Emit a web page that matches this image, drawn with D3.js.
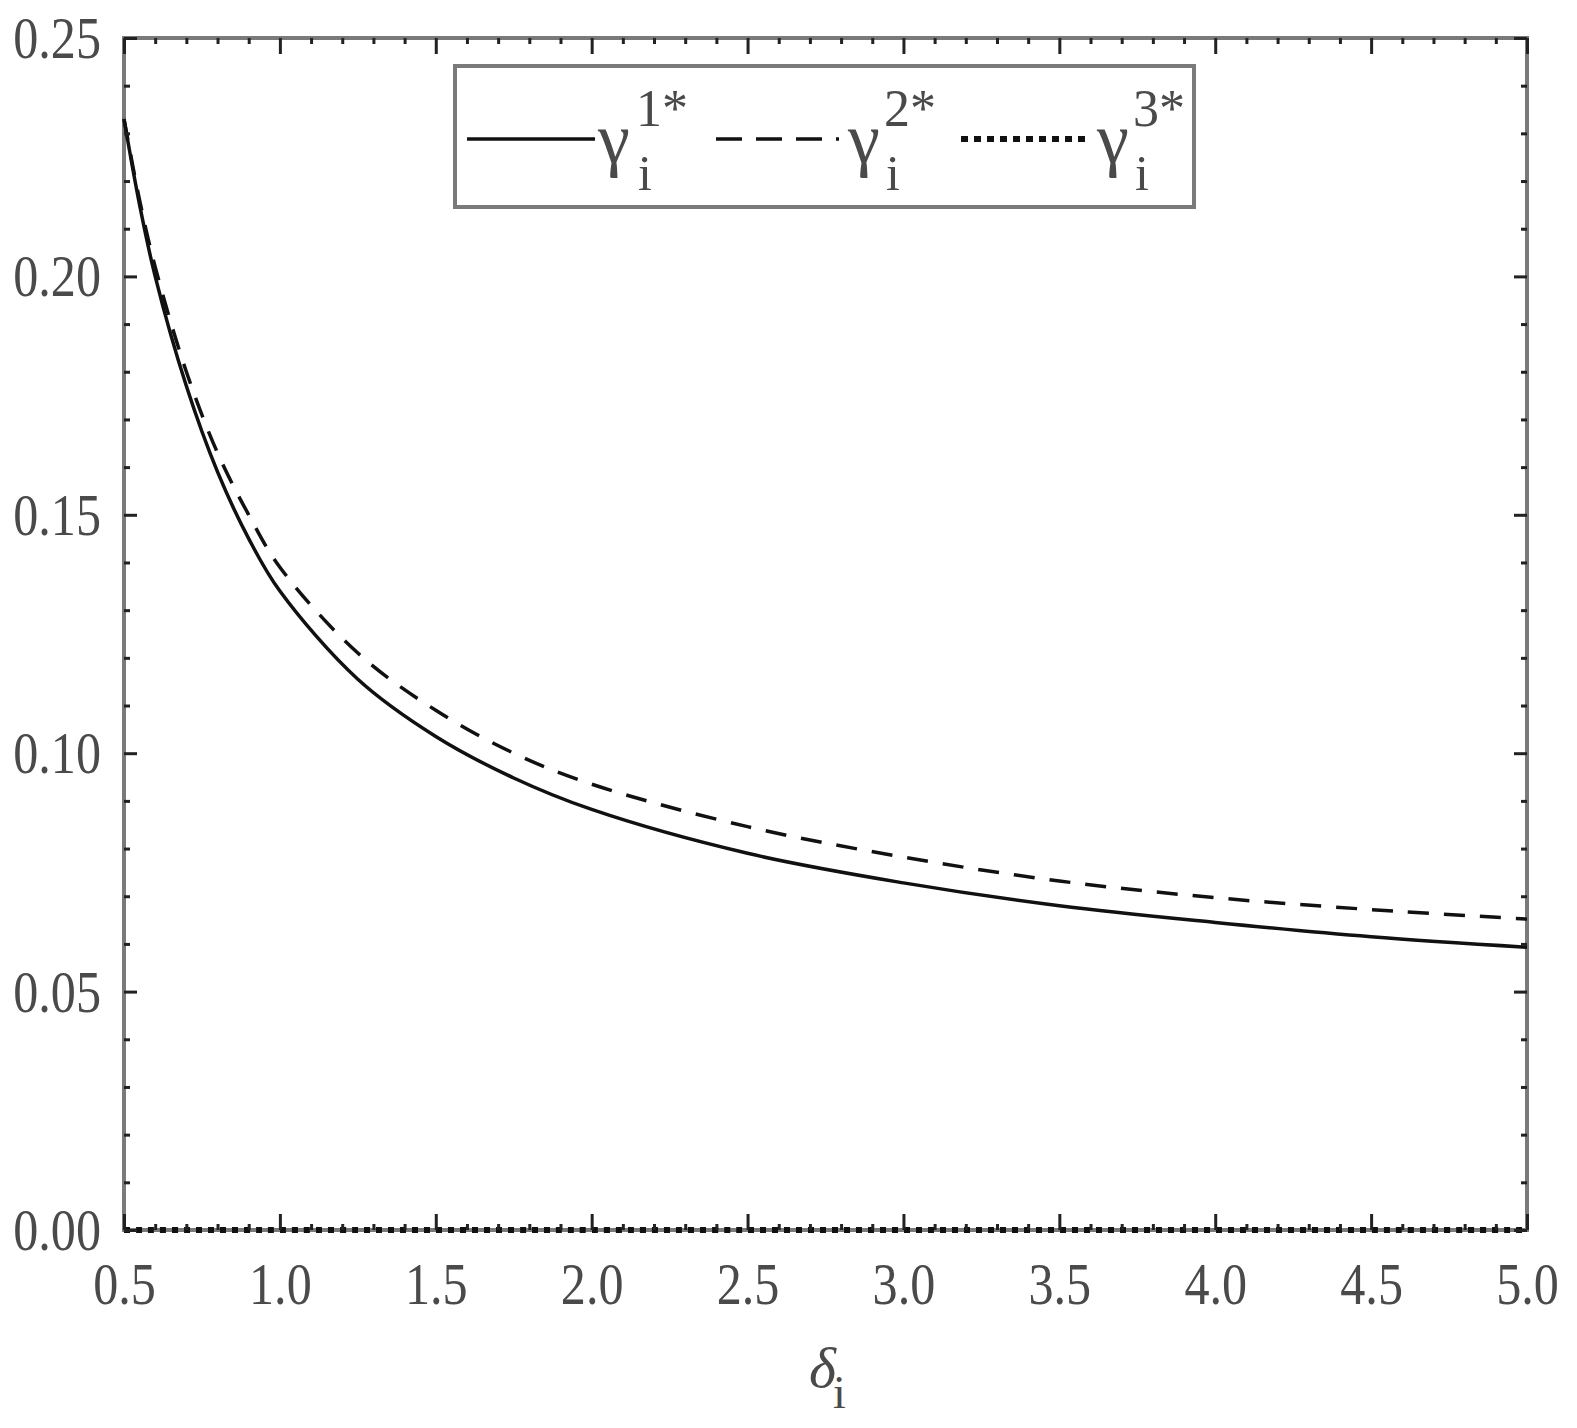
<!DOCTYPE html>
<html><head><meta charset="utf-8">
<script src="https://cdn.jsdelivr.net/npm/d3@7"></script>
<style>body{margin:0;background:#fff}</style>
</head><body><svg id="c" width="1577" height="1428"></svg>
<script>
const delta  = [0.5, 0.55, 0.6, 0.7, 0.8, 0.9, 1.0, 1.25, 1.5, 1.75, 2.0, 2.5, 3.0, 3.5, 4.0, 4.5, 5.0];
const gamma1 = [0.233, 0.215, 0.200, 0.177, 0.159, 0.145, 0.134, 0.1155, 0.1035, 0.0948, 0.0882, 0.0790, 0.0728, 0.0680, 0.0645, 0.0615, 0.0593];
const gamma2 = [0.233, 0.216, 0.202, 0.180, 0.163, 0.150, 0.139, 0.1210, 0.1090, 0.1000, 0.0935, 0.0846, 0.0782, 0.0732, 0.0697, 0.0672, 0.0652];
const gamma3 = [0, 0, 0, 0, 0, 0, 0, 0, 0, 0, 0, 0, 0, 0, 0, 0, 0];
const xTicks = [0.5, 1.0, 1.5, 2.0, 2.5, 3.0, 3.5, 4.0, 4.5, 5.0];
const xTickLabels = ["0.5","1.0","1.5","2.0","2.5","3.0","3.5","4.0","4.5","5.0"];
const yTicks = [0, 0.05, 0.10, 0.15, 0.20, 0.25];
const yTickLabels = ["0.00","0.05","0.10","0.15","0.20","0.25"];
const seriesNames = ["1*", "2*", "3*"];

const L = 124, R = 1527, T = 38, B = 1230;
const svg = d3.select("#c");
const x = d3.scaleLinear().domain([0.5, 5]).range([L, R]);
const y = d3.scaleLinear().domain([0, 0.25]).range([B, T]);
const FONT = "'Liberation Serif','Times New Roman',serif";
const TXT = "#4a4a4a";
const SX = 0.85;

// frame
svg.append("rect").attr("x", L).attr("y", T).attr("width", R - L).attr("height", B - T)
  .attr("fill", "none").attr("stroke", "#7a7a7a").attr("stroke-width", 4);

// curves
const line = d3.line().x((d, i) => x(delta[i])).y(d => y(d)).curve(d3.curveCatmullRom.alpha(0.5));
const styles = [
  {data: gamma1, dash: null, w: 3.5},
  {data: gamma2, dash: "21,15", w: 3.5},
  {data: gamma3, dash: "6,6", w: 6}
];
styles.forEach(s => {
  svg.append("path").attr("d", line(s.data)).attr("fill", "none")
    .attr("stroke", "#111").attr("stroke-width", s.w)
    .attr("stroke-dasharray", s.dash);
});

// ticks
const minorX = d3.range(5, 51).map(v => v / 10).filter(v => !xTicks.some(t => Math.abs(t - v) < 1e-9));
const minorY = d3.range(0, 26).map(v => v / 100).filter(v => !yTicks.some(t => Math.abs(t - v) < 1e-9));
function styleTicks(g) {
  g.select(".domain").remove();
  g.selectAll(".tick line").attr("stroke", "#222").attr("stroke-width", 3);
}
svg.append("g").attr("transform", `translate(0,${B})`)
  .call(d3.axisBottom(x).tickValues(minorX).tickSize(-6).tickFormat("")).call(styleTicks);
svg.append("g").attr("transform", `translate(0,${T})`)
  .call(d3.axisTop(x).tickValues(minorX).tickSize(-6).tickFormat("")).call(styleTicks);
svg.append("g").attr("transform", `translate(${L},0)`)
  .call(d3.axisLeft(y).tickValues(minorY).tickSize(-6).tickFormat("")).call(styleTicks);
svg.append("g").attr("transform", `translate(${R},0)`)
  .call(d3.axisRight(y).tickValues(minorY).tickSize(-6).tickFormat("")).call(styleTicks);

const xb = svg.append("g").attr("transform", `translate(0,${B})`)
  .call(d3.axisBottom(x).tickValues(xTicks).tickSize(-16).tickFormat((d, i) => xTickLabels[i])).call(styleTicks);
xb.selectAll("text").attr("y", 74).attr("dy", null)
  .attr("font-family", FONT).attr("font-size", 59).attr("fill", TXT)
  .attr("transform", `scale(${SX},1)`);
svg.append("g").attr("transform", `translate(0,${T})`)
  .call(d3.axisTop(x).tickValues(xTicks).tickSize(-16).tickFormat("")).call(styleTicks);

const yl = svg.append("g").attr("transform", `translate(${L},0)`)
  .call(d3.axisLeft(y).tickValues(yTicks).tickSize(-13).tickFormat((d, i) => yTickLabels[i])).call(styleTicks);
yl.selectAll("text").attr("x", -23 / SX).attr("dy", "0.33em")
  .attr("font-family", FONT).attr("font-size", 59).attr("fill", TXT)
  .attr("transform", `scale(${SX},1)`);
svg.append("g").attr("transform", `translate(${R},0)`)
  .call(d3.axisRight(y).tickValues(yTicks).tickSize(-13).tickFormat("")).call(styleTicks);

// x axis title
const xt = svg.append("text").attr("x", 809).attr("y", 1387)
  .attr("font-family", FONT).attr("fill", TXT);
xt.append("tspan").attr("font-style", "italic").attr("font-size", 58).text("δ");
xt.append("tspan").attr("font-size", 46).attr("x", 833).attr("y", 1408).text("i");

// legend
svg.append("rect").attr("x", 455).attr("y", 66).attr("width", 739).attr("height", 141)
  .attr("fill", "#fff").attr("stroke", "#7a7a7a").attr("stroke-width", 4);
const legendItems = [
  {x1: 467, x2: 595, dash: null, w: 3.5, gx: 598, sx: 636, ix: 638},
  {x1: 716, x2: 846, dash: "26,14,26,14,26,14,3,100", w: 3.5, gx: 848, sx: 884, ix: 886},
  {x1: 961, x2: 1089, dash: "7,6", w: 6, gx: 1097, sx: 1133, ix: 1135}
];
legendItems.forEach((it, i) => {
  svg.append("line").attr("x1", it.x1).attr("x2", it.x2).attr("y1", 139).attr("y2", 139)
    .attr("stroke", "#111").attr("stroke-width", it.w).attr("stroke-dasharray", it.dash);
  svg.append("text").attr("x", it.gx).attr("y", 163).attr("font-family", FONT)
    .attr("font-size", 72).attr("fill", TXT).text("γ");
  svg.append("text").attr("x", it.sx).attr("y", 126).attr("font-family", FONT)
    .attr("font-size", 52).attr("fill", TXT).text(seriesNames[i]);
  svg.append("text").attr("x", it.ix).attr("y", 190).attr("font-family", FONT)
    .attr("font-size", 50).attr("fill", TXT).text("i");
});
</script></body></html>
